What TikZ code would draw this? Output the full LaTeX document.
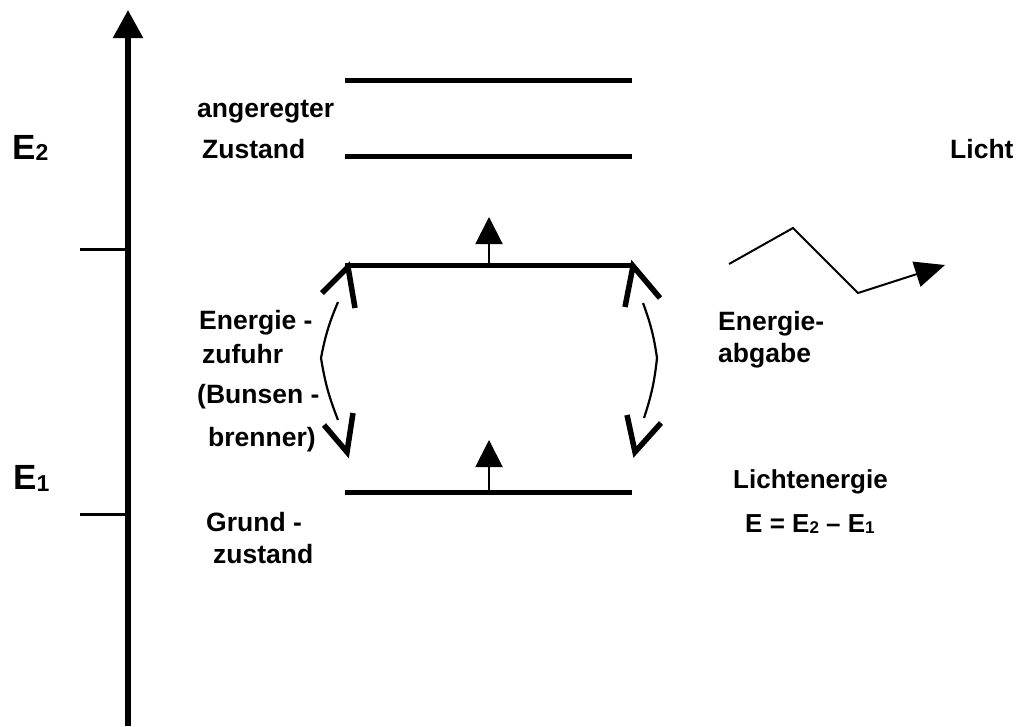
\documentclass[tikz,border=0pt]{standalone}
\usepackage{fontspec}
\setmainfont{Liberation Sans}
\usetikzlibrary{arrows.meta}
\begin{document}
\begin{tikzpicture}[x=1pt,y=-1pt,
  lbl/.style={anchor=base west, inner sep=0pt, font=\bfseries\fontsize{26.5}{30}\selectfont},
  lbls/.style={anchor=base west, inner sep=0pt, font=\bfseries\fontsize{26}{30}\selectfont},
  elbl/.style={anchor=base west, inner sep=0pt, font=\bfseries\fontsize{35}{40}\selectfont},
  level/.style={line width=5pt},
  tick/.style={line width=3pt},
  vhead/.style={line width=5.5pt, miter limit=10},
  swing/.style={line width=2.2pt},
  upar/.style={line width=2pt, -{Triangle[length=27pt,width=27pt]}},
  lightray/.style={line width=2pt, line join=miter, -{Triangle[length=30pt,width=26pt]}}
]
\useasboundingbox (0,0) rectangle (1024,726);

% axis
\coordinate (axB) at (128,726);
\coordinate (axT) at (128,10);
\draw[line width=5.5pt, -{Triangle[length=28pt,width=29pt]}] (axB) -- (axT);
\coordinate (t2a) at (80,249); \coordinate (t2b) at (128,249);
\coordinate (t1a) at (80,514); \coordinate (t1b) at (128,514);
\draw[tick] (t2a) -- (t2b);
\draw[tick] (t1a) -- (t1b);
\node[elbl] (E2) at (12,159) {E\raisebox{-1.5pt}{\fontsize{23}{23}\selectfont 2}};
\node[elbl] (E1) at (13,489) {E\raisebox{-2pt}{\fontsize{23}{23}\selectfont 1}};

% levels
\coordinate (L1a) at (345,80);  \coordinate (L1b) at (632,80);
\coordinate (L2a) at (345,156); \coordinate (L2b) at (632,156);
\coordinate (L3a) at (345,265); \coordinate (L3b) at (632,265);
\coordinate (L4a) at (345,492); \coordinate (L4b) at (632,492);
\draw[level] (L1a) -- (L1b);
\draw[level] (L2a) -- (L2b);
\draw[level] (L3a) -- (L3b);
\draw[level] (L4a) -- (L4b);

% small up arrows
\coordinate (u1s) at (489,265); \coordinate (u1t) at (489,217);
\coordinate (u2s) at (489,492); \coordinate (u2t) at (489,440);
\draw[upar] (u1s) -- (u1t);
\draw[upar] (u2s) -- (u2t);

% left curved double arrow
\draw[vhead] (322,293) -- (348,267) -- (355,308);
\draw[swing] (338,302) to[bend right=6] (321,358) to[bend right=6] (338,420);
\draw[vhead] (324,425) -- (347,452) -- (353,413);

% right curved double arrow
\draw[vhead] (625,307) -- (633,266) -- (660,298);
\draw[swing] (643,303) to[bend left=6] (657,358) to[bend left=6] (644,418);
\draw[vhead] (627,415) -- (635,452) -- (661,423);

% light zigzag
\coordinate (z1) at (729,264); \coordinate (z2) at (793,228);
\coordinate (z3) at (858,293); \coordinate (z4) at (945,265);
\draw[lightray] (z1) -- (z2) -- (z3) -- (z4);

% labels
\node[lbl] (ang) at (197,117) {angeregter};
\node[lbl] (zus) at (202,158) {Zustand};
\node[lbl] (licht) at (950,158) {Licht};
\node[lbl] (ez1) at (199,329) {Energie -};
\node[lbl] (ez2) at (202,363) {zufuhr};
\node[lbl] (ez3) at (197,403) {(Bunsen -};
\node[lbl] (ez4) at (208,446) {brenner)};
\node[lbl] (ea1) at (718,330) {Energie-};
\node[lbl] (ea2) at (718,362) {abgabe};
\node[lbl] (gz1) at (206,531) {Grund -};
\node[lbl] (gz2) at (213,563) {zustand};
\node[lbls] (le) at (733,488) {Lichtenergie};
\node[lbls] (eq) at (745,532) {E = E\raisebox{-1pt}{\fontsize{17}{17}\selectfont 2} -- E\raisebox{-1pt}{\fontsize{17}{17}\selectfont 1}};
\end{tikzpicture}
\end{document}
